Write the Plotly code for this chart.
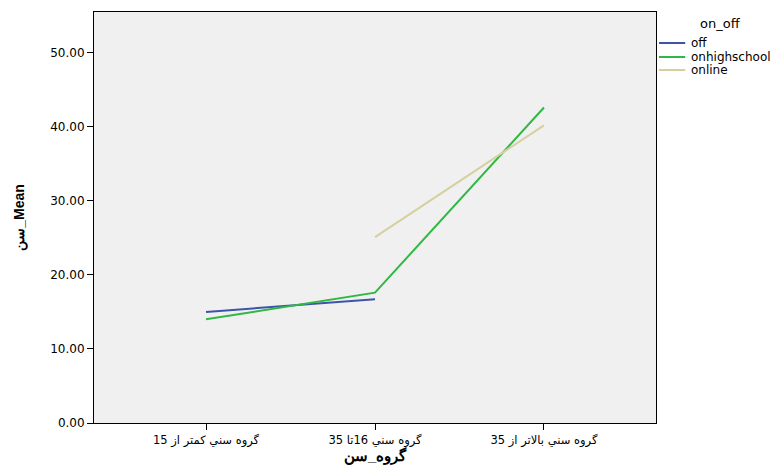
import plotly.graph_objects as go

categories = ["گروه سني كمتر از 15", "گروه سني 16تا 35", "گروه سني بالاتر از 35"]
off_vals = [15.0, 16.7, None]
onhighschool_vals = [14.0, 17.6, 42.6]
online_vals = [None, 25.1, 40.2]
series_names = ["off", "onhighschool", "online"]
series_colors = ["#3e54a9", "#2fb944", "#d6cf9f"]
y_ticks = [0, 10, 20, 30, 40, 50]
x_title = "گروه_سن"
y_title = "سن_Mean"
legend_title = "on_off"

FONT = "Liberation Sans, Arial, sans-serif"
WFONT = "DejaVu Sans, sans-serif"
xs = list(range(len(categories)))

fig = go.Figure()
for name, vals, col in zip(series_names, [off_vals, onhighschool_vals, online_vals], series_colors):
    fig.add_trace(go.Scatter(x=xs, y=vals, mode="lines", name=name,
                             line=dict(color=col, width=2), connectgaps=False,
                             showlegend=False))

# manual legend
shapes = []
annotations = [dict(text=legend_title, x=1.114, y=0.972, xref="paper", yref="paper",
                    showarrow=False, font=dict(family=WFONT, size=13, color="black"),
                    xanchor="center", yanchor="middle"),
               dict(text="<b>" + x_title + "</b>", x=0.5, y=-0.08, xref="paper", yref="paper",
                    showarrow=False, font=dict(family=FONT, size=15, color="black"),
                    xanchor="center", yanchor="middle")]
leg_y = [0.9246, 0.8905, 0.8589]
for name, col, yy in zip(series_names, series_colors, leg_y):
    shapes.append(dict(type="line", xref="paper", yref="paper", x0=1.0053, x1=1.052,
                       y0=yy, y1=yy, line=dict(color=col, width=2)))
    annotations.append(dict(text=name, x=1.058, y=yy, xref="paper", yref="paper",
                            showarrow=False, xanchor="left", yanchor="middle",
                            font=dict(family=WFONT, size=12, color="black")))

fig.update_layout(
    width=783, height=465,
    margin=dict(l=86, r=135, t=4, b=50),
    paper_bgcolor="white", plot_bgcolor="#f0f0f0",
    font=dict(family=FONT, color="black"),
    shapes=shapes, annotations=annotations,
    xaxis=dict(range=[-0.663, 2.663], tickmode="array", tickvals=xs, ticktext=categories,
               showgrid=False, zeroline=False, showline=True, linecolor="black", linewidth=1,
               mirror=True, ticks="outside", ticklen=6, tickcolor="black", automargin=False,
               tickfont=dict(family=WFONT, size=11.5, color="black")),
    yaxis=dict(range=[0, 55.5], tickmode="array", tickvals=y_ticks, tickformat=".2f",
               showgrid=False, zeroline=False, showline=True, linecolor="black", linewidth=1,
               mirror=True, ticks="outside", ticklen=6, tickcolor="black", automargin=False,
               tickfont=dict(family=WFONT, size=12, color="black"),
               title=dict(text="<b>" + y_title + "</b>", font=dict(family=FONT, size=14), standoff=22)),
)

fig.write_html("out.html")
